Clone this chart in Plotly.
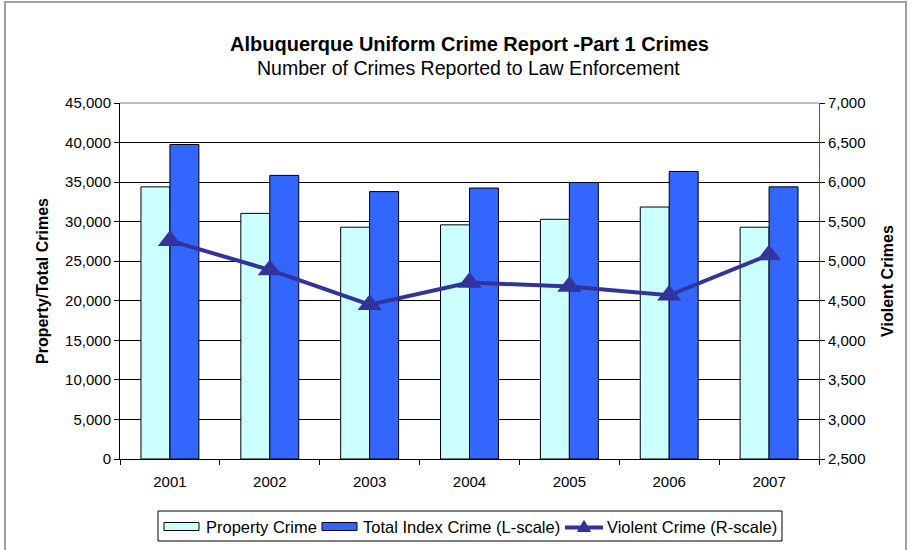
import plotly.graph_objects as go

years = ["2001", "2002", "2003", "2004", "2005", "2006", "2007"]
property_crime = [34400, 31050, 29300, 29600, 30300, 31850, 29300]
total_index_crime = [39750, 35850, 33800, 34250, 34950, 36350, 34400]
violent_crime = [5260, 4890, 4450, 4730, 4680, 4570, 5080]

left_ticks = list(range(0, 45001, 5000))
right_ticks = list(range(2500, 7001, 500))

series_names = ["Property Crime", "Total Index Crime (L-scale)", "Violent Crime (R-scale)"]
series_colors = ["#CCFFFF", "#3366FF", "#333399"]

FONT = "Liberation Sans, Arial, sans-serif"

W, H = 912, 550
ML, MR, MT, MB = 120, 93, 103, 91
PW, PH = W - ML - MR, H - MT - MB


def px(x):
    """pixel column -> paper x"""
    return (x - ML) / PW


def py(y):
    """pixel row -> paper y"""
    return (H - MB - y) / PH


fig = go.Figure()

fig.add_trace(go.Bar(
    x=years, y=property_crime, name=series_names[0],
    marker=dict(color=series_colors[0], line=dict(color="#000000", width=1)),
    yaxis="y",
))
fig.add_trace(go.Bar(
    x=years, y=total_index_crime, name=series_names[1],
    marker=dict(color=series_colors[1], line=dict(color="#000000", width=1)),
    yaxis="y",
))
fig.add_trace(go.Scatter(
    x=years, y=violent_crime, name=series_names[2],
    mode="lines+markers",
    line=dict(color=series_colors[2], width=4),
    marker=dict(symbol="triangle-up", size=21, color=series_colors[2]),
    yaxis="y2",
))

fig.update_layout(
    width=W, height=H,
    margin=dict(l=ML, r=MR, t=MT, b=MB),
    paper_bgcolor="#FFFFFF", plot_bgcolor="#FFFFFF",
    font=dict(family=FONT, size=15, color="#000000"),
    barmode="group", bargap=0.42, bargroupgap=0,
    showlegend=False,
    xaxis=dict(
        type="category", tickson="boundaries", ticks="outside", ticklen=5,
        tickcolor="#000000", showline=True, linecolor="#000000", linewidth=1,
        showgrid=False, tickfont=dict(size=15), ticklabelstandoff=9,
    ),
    yaxis=dict(
        range=[0, 45000], tickvals=left_ticks, tickformat=",",
        ticks="outside", ticklen=5, tickcolor="#000000",
        showline=True, linecolor="#000000", linewidth=1,
        showgrid=True, gridcolor="#000000", gridwidth=1, zeroline=False,
        tickfont=dict(size=15),
        title=dict(text="<b>Property/Total Crimes</b>", font=dict(size=16), standoff=12),
    ),
    yaxis2=dict(
        range=[2500, 7000], tickvals=right_ticks, tickformat=",",
        overlaying="y", side="right",
        ticks="outside", ticklen=5, tickcolor="#000000",
        showline=True, linecolor="#555555", linewidth=1,
        showgrid=False, zeroline=False,
        tickfont=dict(size=15),
        title=dict(text="<b>Violent Crimes</b>", font=dict(size=16), standoff=17),
    ),
    title=dict(
        text="<b>Albuquerque Uniform Crime Report -Part 1 Crimes</b>",
        x=px(469.5), xref="paper", xanchor="center",
        y=1 - 44 / H, yanchor="middle",
        font=dict(family=FONT, size=20, color="#000000"),
    ),
)

# subtitle
fig.add_annotation(
    text="Number of Crimes Reported to Law Enforcement",
    xref="paper", yref="paper", x=px(468.5), y=py(68), xanchor="center", yanchor="middle",
    showarrow=False, font=dict(family=FONT, size=19.5, color="#000000"),
)

# top edge of the plot area
fig.add_shape(type="line", xref="paper", yref="paper", x0=0, x1=1, y0=1, y1=1,
              line=dict(color="#808080", width=1))
# outer chart frame
fig.add_shape(type="rect", xref="paper", yref="paper",
              x0=px(5), x1=px(906), y0=py(555), y1=py(2),
              line=dict(color="#A0A0A0", width=2), layer="below")

# legend box
fig.add_shape(type="rect", xref="paper", yref="paper",
              x0=px(158), x1=px(782), y0=py(541), y1=py(511),
              line=dict(color="#000000", width=1), fillcolor="#FFFFFF")
leg_mid = 526.5
# bar swatches and labels
for x0, x_text, name, color in [
    (164, 204, series_names[0], series_colors[0]),
    (322, 361, series_names[1], series_colors[1]),
]:
    fig.add_shape(type="rect", xref="paper", yref="paper",
                  x0=px(x0), x1=px(x0 + 35), y0=py(leg_mid + 4), y1=py(leg_mid - 4),
                  line=dict(color="#000000", width=1), fillcolor=color)
    fig.add_annotation(text=name, xref="paper", yref="paper", x=px(x_text), y=py(leg_mid),
                       xanchor="left", yanchor="middle", showarrow=False,
                       font=dict(family=FONT, size=16.5, color="#000000"))
# line swatch with triangle marker
fig.add_shape(type="line", xref="paper", yref="paper",
              x0=px(565), x1=px(603), y0=py(leg_mid + 1), y1=py(leg_mid + 1),
              line=dict(color=series_colors[2], width=4))
tri = "M {:.5f},{:.5f} L {:.5f},{:.5f} L {:.5f},{:.5f} Z".format(
    px(577.5), py(leg_mid + 5), px(590.5), py(leg_mid + 5), px(584), py(leg_mid - 6))
fig.add_shape(type="path", xref="paper", yref="paper", path=tri,
              line=dict(color=series_colors[2], width=1), fillcolor=series_colors[2])
fig.add_annotation(text=series_names[2], xref="paper", yref="paper", x=px(605), y=py(leg_mid),
                   xanchor="left", yanchor="middle", showarrow=False,
                   font=dict(family=FONT, size=16.5, color="#000000"))

fig.write_html("out.html")
